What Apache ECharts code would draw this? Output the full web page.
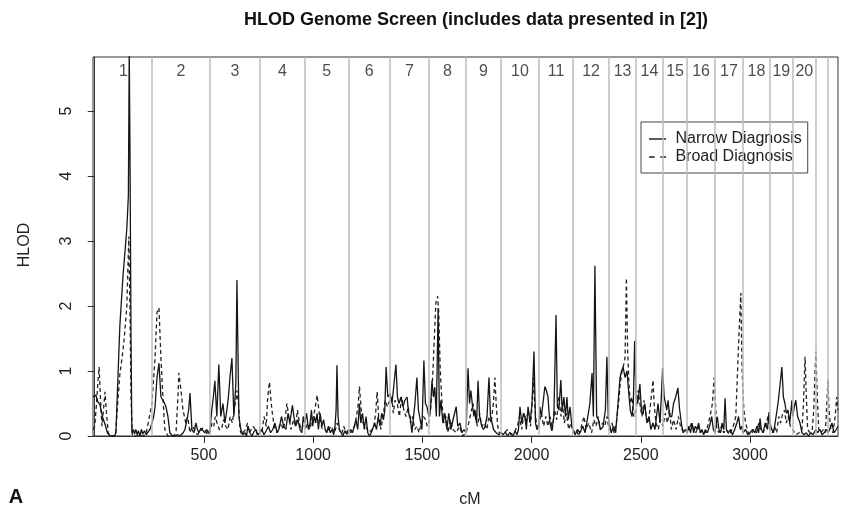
<!DOCTYPE html>
<html>
<head>
<meta charset="utf-8">
<script src="https://cdn.jsdelivr.net/npm/echarts@6/dist/echarts.min.js"></script>
<style>
html,body{margin:0;padding:0;background:#fff;}
#chart{width:842px;height:515px;}
</style>
</head>
<body>
<div id="chart"></div>
<script>
// ---- data ----
const chromNames = ['1','2','3','4','5','6','7','8','9','10','11','12','13','14','15','16','17','18','19','20'];
const chromBoundaries = [262,527,756,962,1163,1351,1530,1700,1860,2034,2190,2355,2478,2602,2712,2840,2968,3091,3196,3302,3357];
const xTicks = [500,1000,1500,2000,2500,3000];
const yTicks = [0,1,2,3,4,5];

const narrow = [
[-8,0.6],[0,0.6],[5,0.63],[15,0.52],[24,0.48],[35,0.3],[47,0.18],[58,0.05],[70,0],[90,0],[97,0.05],[105,0.8],[115,1.7],[129,2.45],[140,2.9],[147,3.2],[154,3.7],[158,5.95],[162,4.0],[166,1.5],[170,0.05],[176,0.1],[182,0.03],[188,0.1],[194,0.02],[200,0.08],[207,0.0],[214,0.1],[220,0.03],[228,0.08],[236,0.02],[244,0.06],[253,0.1],
[262,0.2],[270,0.3],[276,0.45],[285,0.9],[294,1.12],[303,0.6],[312,0.55],[320,0.5],[326,0.45],[335,0.3],[344,0.05],[355,0.0],[367,0],[380,0.02],[390,0],[405,0.05],[413,0.1],[422,0.25],[430,0.4],[436,0.66],[445,0.1],[454,0.05],[463,0.2],[470,0.1],[477,0.05],[486,0.12],[495,0.15],[504,0.05],[513,0.1],[520,0.04],
[527,0.1],[536,0.4],[543,0.6],[550,0.85],[559,0.3],[568,1.1],[577,0.3],[587,0.5],[596,0.2],[605,0.4],[612,0.6],[619,0.9],[628,1.2],[637,0.3],[646,0.8],[651,2.4],[660,0.3],[669,0.1],[678,0.02],[688,0.05],[695,0.0],[701,0.15],[710,0.05],[720,0],[728,0.06],[738,0.1],[746,0.02],[756,0.05],
[765,0.1],[775,0.02],[785,0.08],[795,0.15],[805,0.05],[815,0.1],[825,0.2],[835,0.05],[845,0.12],[855,0.3],[865,0.15],[875,0.1],[885,0.35],[893,0.2],[905,0.47],[912,0.3],[920,0.15],[930,0.25],[940,0.1],[948,0.05],[955,0.3],[962,0.2],
[970,0.35],[978,0.1],[986,0.2],[992,0.4],[998,0.15],[1005,0.3],[1012,0.2],[1018,0.35],[1024,0.1],[1032,0.35],[1040,0.15],[1048,0.25],[1055,0.1],[1062,0.05],[1070,0.15],[1078,0.05],[1086,0.1],[1094,0.02],[1100,0.15],[1105,0.4],[1109,1.09],[1114,0.3],[1120,0.1],[1128,0.05],[1136,0.0],[1145,0.08],[1154,0.03],[1163,0.05],
[1172,0.1],[1180,0.05],[1188,0.15],[1196,0.25],[1204,0.1],[1212,0.5],[1218,0.2],[1226,0.35],[1234,0.1],[1242,0.3],[1250,0.05],[1258,0.0],[1266,0.05],[1274,0.02],[1282,0.2],[1290,0.1],[1298,0.3],[1306,0.15],[1314,0.35],[1322,0.25],[1328,0.4],[1334,1.06],
[1342,0.6],[1352,0.65],[1361,0.5],[1370,0.8],[1379,1.1],[1386,0.6],[1393,0.5],[1402,0.6],[1411,0.45],[1420,0.55],[1430,0.6],[1437,0.35],[1444,0.3],[1452,0.05],[1458,0.05],[1466,0.5],[1475,0.9],[1482,0.4],[1489,0.4],[1498,0.1],[1507,1.16],[1514,0.5],[1521,0.45],
[1530,0.3],[1537,0.4],[1544,0.85],[1551,0.6],[1557,0.75],[1564,0.3],[1572,1.97],[1578,0.3],[1585,0.55],[1594,0.2],[1603,0.35],[1612,0.1],[1621,0.35],[1630,0.1],[1637,0.2],[1644,0.3],[1655,0.45],[1662,0.15],[1672,0.2],[1681,0.05],[1690,0.1],
[1700,0.05],[1709,1.04],[1716,0.5],[1722,0.7],[1730,0.45],[1736,0.3],[1741,0.4],[1748,0.2],[1755,0.85],[1762,0.3],[1772,0.15],[1780,0.1],[1787,0.15],[1796,0.3],[1805,0.9],[1812,0.3],[1819,0.2],[1826,0.1],[1838,0.05],[1850,0.02],
[1860,0.05],[1870,0.02],[1880,0.06],[1890,0.0],[1900,0.05],[1915,0.0],[1925,0.08],[1933,0.02],[1940,0.1],[1947,0.45],[1955,0.2],[1963,0.35],[1970,0.3],[1976,0.1],[1984,0.45],[1993,0.2],[2002,0.5],[2011,1.3],[2018,0.2],[2025,0.1],
[2034,0.15],[2038,0.45],[2045,0.3],[2052,0.5],[2061,0.76],[2068,0.7],[2075,0.6],[2084,0.2],[2093,0.08],[2102,0.3],[2112,1.86],[2118,0.45],[2125,0.4],[2134,0.86],[2140,0.4],[2148,0.6],[2155,0.3],[2162,0.6],[2168,0.25],[2176,0.45],[2183,0.2],
[2190,0.1],[2200,0.02],[2210,0.1],[2222,0.05],[2235,0.15],[2245,0.05],[2255,0.25],[2267,0.5],[2277,0.97],[2283,0.3],[2290,2.62],[2298,0.3],[2306,0.25],[2315,0.1],[2327,0.14],[2338,0.4],[2345,1.22],[2351,0.3],
[2355,0.2],[2365,0.05],[2375,0.15],[2385,0.05],[2391,0.3],[2398,0.6],[2405,0.9],[2412,1.0],[2419,1.06],[2428,0.9],[2437,1.0],[2444,0.7],[2452,0.4],[2460,0.3],[2466,0.5],[2472,1.46],
[2478,0.6],[2486,0.5],[2496,0.8],[2503,0.4],[2510,0.33],[2518,0.5],[2528,0.2],[2538,0.3],[2546,0.1],[2556,0.2],[2565,0.1],[2572,0.3],[2579,0.5],[2588,0.2],[2594,0.6],[2600,1.05],
[2607,0.6],[2613,0.5],[2619,0.4],[2625,0.55],[2632,0.3],[2642,0.3],[2650,0.5],[2660,0.6],[2670,0.74],[2678,0.4],[2688,0.15],[2695,0.05],[2703,0.1],
[2712,0.05],[2720,0.15],[2728,0.05],[2735,0.2],[2742,0.05],[2750,0.15],[2758,0.1],[2765,0.2],[2772,0.05],[2780,0.1],[2788,0.02],[2796,0.1],[2805,0.05],[2815,0.15],[2825,0.3],[2832,0.1],
[2840,0.05],[2850,0.3],[2858,0.1],[2866,0.05],[2872,0.2],[2880,0.1],[2886,0.58],[2892,0.1],[2900,0.05],[2910,0.1],[2920,0.02],[2930,0.1],[2940,0.2],[2948,0.3],[2955,0.1],[2962,0.15],
[2968,0.05],[2980,0.1],[2990,0.02],[3000,0.05],[3012,0.1],[3022,0.05],[3032,0.15],[3040,0.05],[3046,0.27],[3052,0.1],[3060,0.05],[3070,0.2],[3080,0.1],[3087,0.37],
[3091,0.2],[3100,0.1],[3108,0.05],[3115,0.2],[3124,0.4],[3130,0.55],[3138,0.8],[3146,1.06],[3153,0.6],[3160,0.5],[3167,0.35],[3174,0.4],[3182,0.2],[3188,0.4],[3192,0.55],
[3196,0.3],[3203,0.45],[3210,0.55],[3218,0.3],[3229,0.2],[3238,0.05],[3248,0.02],[3258,0.05],[3268,0.0],[3278,0.05],[3288,0.02],[3296,0.05],
[3302,0.1],[3310,0.05],[3320,0.1],[3330,0.02],[3340,0.05],[3350,0.1],
[3357,0.05],[3365,0.1],[3375,0.2],[3385,0.05],[3395,0.1],[3403,0.15]
];

const broad = [
[-8,0.1],[0,0.15],[8,0.5],[15,0.85],[20,1.06],[26,0.6],[33,0.15],[40,0.4],[47,0.68],[55,0.3],[62,0.05],[70,0],[95,0],[105,0.5],[115,0.95],[125,1.2],[135,1.5],[147,2.0],[152,2.6],[156,3.07],[161,2.0],[166,0.6],[172,0],[190,0],[205,0.02],[220,0],[235,0.03],[244,0],
[262,0.5],[276,1.2],[285,1.9],[294,1.97],[303,1.2],[312,0.6],[321,0.1],[335,0],[360,0],[372,0.05],[381,0.6],[385,0.97],[395,0.7],[404,0.4],[417,0.2],[426,0.3],[436,0.05],[447,0.15],[458,0.1],[470,0.02],[481,0.05],[492,0.12],[504,0.1],[515,0.02],
[527,0.05],[537,0.2],[545,0.15],[552,0.3],[560,0.2],[570,0.1],[580,0.1],[590,0.25],[600,0.15],[610,0.1],[620,0.3],[630,0.2],[640,0.45],[647,0.55],[651,0.7],[658,0.5],[665,0.1],[672,0.02],[680,0.05],[690,0.1],[700,0.2],[708,0.05],[715,0.05],[725,0.15],[735,0.1],[745,0.02],
[756,0.1],[765,0.05],[775,0.3],[785,0.15],[792,0.6],[800,0.83],[808,0.5],[815,0.3],[822,0.15],[835,0.05],[850,0.2],[865,0.1],[880,0.5],[888,0.3],[898,0.1],[910,0.25],[920,0.15],[928,0.4],[940,0.15],[950,0.1],[958,0.3],
[966,0.1],[975,0.2],[985,0.1],[995,0.25],[1002,0.3],[1010,0.45],[1018,0.63],[1026,0.4],[1034,0.2],[1042,0.1],[1055,0.1],[1065,0.05],[1075,0.12],[1085,0.15],[1095,0.05],[1102,0.1],[1110,0.2],[1120,0.1],[1130,0.03],[1140,0.15],[1150,0.05],
[1163,0.1],[1172,0.05],[1180,0.1],[1190,0.15],[1198,0.3],[1205,0.45],[1212,0.76],[1220,0.4],[1228,0.2],[1238,0.15],[1248,0.1],[1258,0.05],[1268,0.1],[1278,0.15],[1286,0.35],[1293,0.68],[1300,0.3],[1310,0.1],[1320,0.3],[1330,0.55],[1340,0.45],
[1351,0.55],[1360,0.6],[1367,0.35],[1375,0.55],[1385,0.5],[1395,0.3],[1405,0.6],[1415,0.4],[1425,0.3],[1435,0.45],[1445,0.2],[1455,0.3],[1465,0.1],[1475,0.15],[1485,0.05],[1495,0.2],[1505,0.3],[1515,0.25],[1522,0.15],
[1530,0.2],[1540,0.5],[1548,0.97],[1556,1.6],[1562,2.05],[1570,2.15],[1575,1.9],[1582,1.0],[1590,0.5],[1598,0.2],[1608,0.3],[1618,0.05],[1628,0.25],[1640,0.1],[1655,0.05],[1670,0.15],[1685,0.0],
[1700,0.05],[1712,0.2],[1722,0.35],[1732,0.5],[1742,0.3],[1752,0.15],[1762,0.35],[1772,0.15],[1785,0.2],[1795,0.1],[1805,0.3],[1815,0.2],[1825,0.5],[1832,0.9],[1838,0.5],[1845,0.15],[1852,0.05],
[1860,0.02],[1875,0.05],[1890,0.1],[1905,0.03],[1920,0.05],[1935,0.15],[1945,0.3],[1955,0.1],[1965,0.35],[1975,0.2],[1985,0.4],[1995,0.15],[2003,0.5],[2008,0.9],[2016,0.4],[2025,0.1],
[2034,0.2],[2045,0.35],[2055,0.15],[2065,0.3],[2075,0.15],[2085,0.3],[2095,0.1],[2105,0.4],[2115,0.25],[2125,0.6],[2135,0.3],[2142,0.5],[2150,0.2],[2160,0.35],[2170,0.1],[2180,0.2],
[2190,0.05],[2205,0.1],[2215,0.0],[2228,0.15],[2240,0.3],[2250,0.1],[2262,0.2],[2275,0.05],[2285,0.25],[2295,0.15],[2305,0.3],[2315,0.1],[2325,0.2],[2335,0.15],[2345,0.3],
[2355,0.1],[2368,0.2],[2378,0.05],[2388,0.2],[2398,0.5],[2406,0.8],[2414,1.0],[2422,1.1],[2428,1.2],[2434,2.43],[2440,1.3],[2446,0.8],[2452,0.5],[2460,0.6],[2468,0.3],
[2478,0.4],[2488,0.7],[2496,0.5],[2505,0.3],[2515,0.55],[2525,0.3],[2535,0.2],[2545,0.5],[2556,0.86],[2562,0.45],[2570,0.2],[2580,0.1],[2590,0.25],
[2602,0.15],[2612,0.35],[2622,0.2],[2632,0.4],[2640,0.1],[2650,0.25],[2662,0.1],[2672,0.3],[2682,0.15],[2695,0.05],
[2712,0.1],[2722,0.1],[2732,0.2],[2742,0.1],[2752,0.05],[2762,0.15],[2772,0.05],[2785,0.1],[2798,0.05],[2810,0.2],[2820,0.35],[2828,0.5],[2836,0.9],
[2842,0.5],[2848,0.1],[2858,0.05],[2870,0.15],[2880,0.05],[2892,0.1],[2905,0.02],[2918,0.1],[2928,0.2],[2935,0.3],[2942,0.9],[2950,1.6],[2958,2.2],[2964,1.0],[2972,0.4],
[2980,0.2],[2992,0.05],[3005,0.02],[3018,0.1],[3030,0.05],[3040,0.2],[3050,0.1],[3060,0.05],[3072,0.15],[3082,0.3],
[3091,0.1],[3102,0.05],[3112,0.15],[3122,0.05],[3132,0.3],[3140,0.2],[3150,0.35],[3158,0.4],[3166,0.2],[3175,0.3],[3185,0.15],
[3196,0.1],[3210,0.02],[3225,0.05],[3238,0.1],[3245,0.5],[3252,1.22],[3258,0.6],[3264,0.1],[3275,0.05],[3285,0.1],[3292,0.4],[3298,1.0],[3302,1.3],
[3308,0.6],[3315,0.1],[3325,0.05],[3335,0.1],[3345,0.05],[3352,0.5],[3357,0.86],
[3362,0.4],[3370,0.1],[3380,0.05],[3390,0.3],[3397,0.6],[3403,0.4]
];

// ---- chart ----
const FONT = '"Liberation Sans", Arial, Helvetica, sans-serif';
const X_MIN = -8, X_MAX = 3403, Y_MAX = 5.83, LABEL_Y = 5.6;

const starts = [0].concat(chromBoundaries);
const chromLabelData = chromNames.map((n, i) => [(starts[i] + starts[i + 1]) / 2, LABEL_Y, n]);

const chart = echarts.init(document.getElementById('chart'), null, {renderer: 'canvas'});
chart.setOption({
  animation: false,
  backgroundColor: '#fff',
  textStyle: {fontFamily: FONT},
  grid: {left: 93, right: 4, top: 57, bottom: 79, show: true, borderColor: '#333', borderWidth: 1, backgroundColor: 'transparent'},
  xAxis: {
    type: 'value', min: X_MIN, max: X_MAX,
    splitLine: {show: false},
    axisLine: {show: true, onZero: false, lineStyle: {color: '#333', width: 1}},
    axisTick: {show: true, length: 7, lineStyle: {color: '#333'}, customValues: xTicks},
    axisLabel: {color: '#222', fontSize: 16, fontFamily: FONT, margin: 12, customValues: xTicks, formatter: v => String(v)}
  },
  yAxis: {
    type: 'value', min: 0, max: Y_MAX,
    splitLine: {show: false},
    axisLine: {show: true, lineStyle: {color: '#333', width: 1}},
    axisTick: {show: true, length: 7, lineStyle: {color: '#333'}, customValues: yTicks},
    axisLabel: {color: '#222', fontSize: 16, fontFamily: FONT, rotate: 90, margin: 18, customValues: yTicks, formatter: v => String(v)}
  },
  legend: {
    orient: 'vertical', left: 641, top: 122,
    borderColor: '#444', borderWidth: 1, padding: [9, 6, 8, 8], itemGap: 2,
    itemWidth: 17, itemHeight: 15,
    formatter: name => ' ' + name,
    textStyle: {color: '#222', fontSize: 16, fontFamily: FONT},
    data: [
      {name: 'Narrow Diagnosis', icon: 'path://M0,7H17V8.4H0Z'},
      {name: 'Broad Diagnosis', icon: 'path://M0,7H5V8.4H0Z M10,7H15V8.4H10Z'}
    ]
  },
  graphic: [
    {type: 'text', x: 476, y: 20, style: {text: 'HLOD Genome Screen (includes data presented in [2])', font: 'bold 18px ' + FONT, fill: '#111', align: 'center', verticalAlign: 'middle', textAlign: 'center', textVerticalAlign: 'middle'}},
    {type: 'text', x: 25, y: 245, rotation: Math.PI / 2, style: {text: 'HLOD', font: '16px ' + FONT, fill: '#222', align: 'center', verticalAlign: 'middle', textAlign: 'center', textVerticalAlign: 'middle'}},
    {type: 'text', x: 470, y: 500, style: {text: 'cM', font: '16px ' + FONT, fill: '#222', align: 'center', verticalAlign: 'middle', textAlign: 'center', textVerticalAlign: 'middle'}},
    {type: 'text', x: 16, y: 497, style: {text: 'A', font: 'bold 20px ' + FONT, fill: '#111', align: 'center', verticalAlign: 'middle', textAlign: 'center', textVerticalAlign: 'middle'}}
  ],
  series: [
    {
      name: 'chromosomes', type: 'scatter', z: 1, silent: true,
      symbolSize: 0, data: chromLabelData,
      label: {show: true, position: 'inside', formatter: p => p.value[2], color: '#222', fontSize: 16, fontFamily: FONT},
      markLine: {
        silent: true, symbol: ['none', 'none'], label: {show: false},
        lineStyle: {color: '#bdbdbd', width: 1.5, type: 'solid'},
        data: chromBoundaries.map(b => ({xAxis: b}))
      }
    },
    {
      name: 'Narrow Diagnosis', type: 'line', z: 3, symbol: 'none', showSymbol: false,
      data: narrow, clip: true,
      lineStyle: {color: '#151515', width: 1.3, type: 'solid'},
      itemStyle: {color: '#151515'}
    },
    {
      name: 'Broad Diagnosis', type: 'line', z: 2, symbol: 'none', showSymbol: false,
      data: broad, clip: true,
      lineStyle: {color: '#222', width: 1.3, type: [4, 3]},
      itemStyle: {color: '#222'}
    }
  ]
});
</script>
</body>
</html>
